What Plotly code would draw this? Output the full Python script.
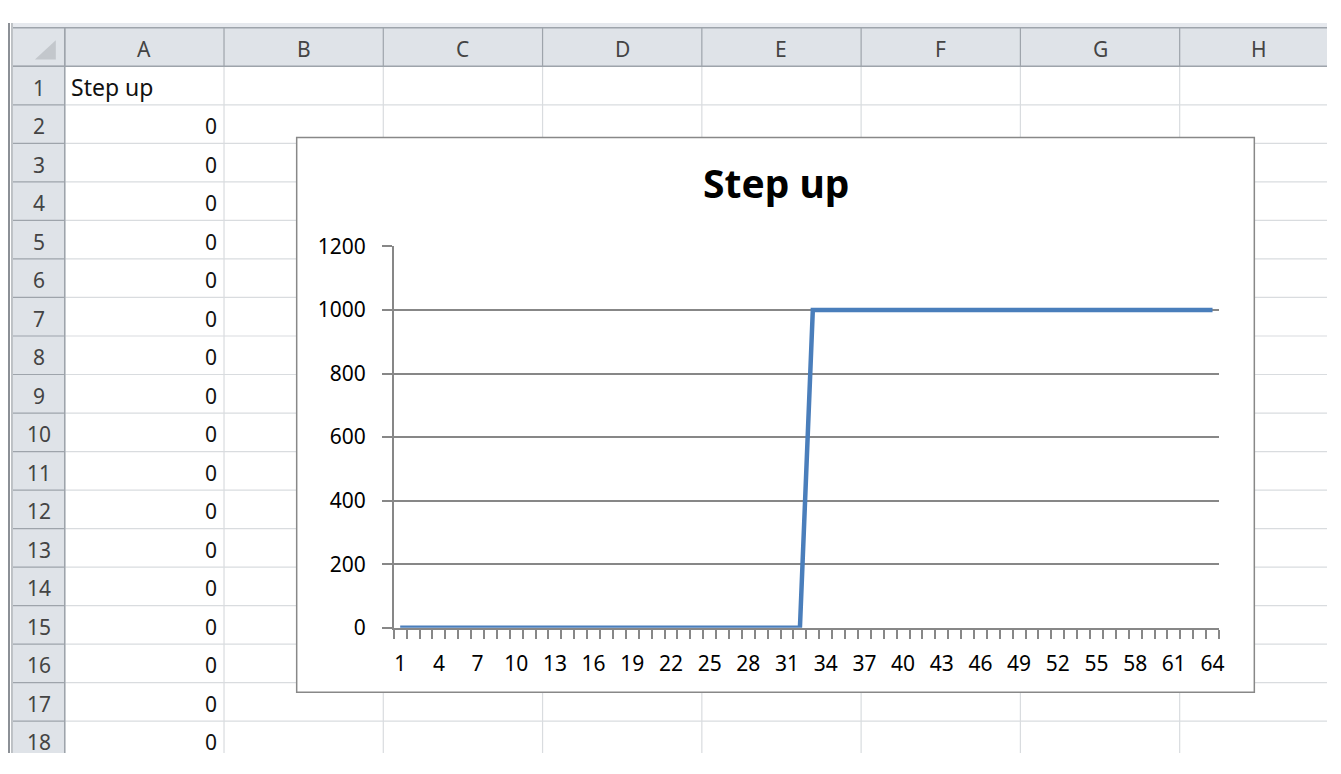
import plotly.graph_objects as go

# ---- data ----
title = "Step up"
categories = list(range(1, 65))
values = [0, 0, 0, 0, 0, 0, 0, 0, 0, 0, 0, 0, 0, 0, 0, 0,
          0, 0, 0, 0, 0, 0, 0, 0, 0, 0, 0, 0, 0, 0, 0, 0,
          1000, 1000, 1000, 1000, 1000, 1000, 1000, 1000,
          1000, 1000, 1000, 1000, 1000, 1000, 1000, 1000,
          1000, 1000, 1000, 1000, 1000, 1000, 1000, 1000,
          1000, 1000, 1000, 1000, 1000, 1000, 1000, 1000]
x_tick_labels = [str(c) for c in categories[::3]]
y_ticks = [0, 200, 400, 600, 800, 1000, 1200]
col_letters = ["A", "B", "C", "D", "E", "F", "G", "H"]
row_numbers = list(range(1, 19))

# the page body keeps its 8px margin; size the figure so the page fits the window exactly
OFF = 8
W, H = 1341 - 2 * OFF, 774 - 2 * OFF
FONT = "Noto Sans"


def px(x):
    return (x - OFF) / W


def py(y):
    return 1 - (y - OFF) / H


shapes = []
annotations = []


def rect(x0, y0, x1, y1, fill, line_color=None, lw=0):
    shapes.append(dict(type="rect", xref="paper", yref="paper",
                       x0=px(x0), x1=px(x1), y0=py(y1), y1=py(y0),
                       fillcolor=fill,
                       line=dict(color=line_color or fill, width=lw),
                       layer="below"))


def line(x0, y0, x1, y1, color, lw=1):
    shapes.append(dict(type="line", xref="paper", yref="paper",
                       x0=px(x0), x1=px(x1), y0=py(y0), y1=py(y1),
                       line=dict(color=color, width=lw), layer="below"))


def text(x, y, s, size=21, xanchor="center", color="#222"):
    annotations.append(dict(x=px(x), y=py(y), xref="paper", yref="paper",
                            text=s, showarrow=False, xanchor=xanchor, yanchor="middle",
                            font=dict(family=FONT, size=size, color=color)))


# ---- spreadsheet background ----
HEAD_BG = "#dfe3e8"
HEAD_LINE = "#9ea4ab"
GRID = "#d9dcdf"
left, row_head_r = 13, 65
col_w, col0 = 160, 65
head_top, head_bot = 13, 53
row_h = 40
RIGHT, BOTTOM = W + OFF, H + OFF

rect(OFF, OFF, RIGHT, BOTTOM, "white")
rect(left, OFF, RIGHT, head_top, "#e6e9ee")
# cell gridlines
for i in range(len(col_letters) + 1):
    x = col0 + i * col_w
    if x <= RIGHT:
        line(x, head_bot, x, BOTTOM, GRID, 1.2)
for r in range(len(row_numbers) + 1):
    y = head_bot + r * row_h
    if y <= BOTTOM:
        line(row_head_r, y, RIGHT, y, GRID, 1.2)
# column header
rect(left, head_top, RIGHT, head_bot, HEAD_BG)
line(left, head_top, RIGHT, head_top, HEAD_LINE, 1.5)
line(left, head_bot, RIGHT, head_bot, HEAD_LINE, 1.5)
for i in range(len(col_letters) + 1):
    x = col0 + i * col_w
    if x <= RIGHT:
        line(x, head_top, x, head_bot, HEAD_LINE, 1.2)
for i, c in enumerate(col_letters):
    text(col0 + i * col_w + col_w / 2, (head_top + head_bot) / 2 + 2, c, 21, color="#444")
# row header
rect(left, head_bot, row_head_r, BOTTOM, HEAD_BG)
line(row_head_r, head_top, row_head_r, BOTTOM, HEAD_LINE, 1.5)
for r in range(len(row_numbers) + 1):
    y = head_bot + r * row_h
    if y <= BOTTOM:
        line(left, y, row_head_r, y, HEAD_LINE, 1.2)
for r, n in enumerate(row_numbers):
    text((left + row_head_r) / 2, head_bot + r * row_h + row_h / 2 + 2, str(n), 21, color="#444")
# corner triangle
shapes.append(dict(type="path", xref="paper", yref="paper",
                   path="M %f %f L %f %f L %f %f Z" % (px(35), py(46), px(56), py(46), px(56), py(26)),
                   fillcolor="#c3c7cc", line=dict(width=0), layer="below"))
# left window border (double line)
line(OFF + 1, OFF, OFF + 1, BOTTOM, "#8c9096", 2)
line(12, OFF, 12, BOTTOM, "#a8adb3", 1.5)

# column A contents
text(69, head_bot + row_h / 2 + 1, title, 23, xanchor="left", color="#111")
for r in range(1, len(row_numbers)):
    text(220, head_bot + r * row_h + row_h / 2 + 2, str(values[r - 1]), 21, xanchor="right", color="#111")

# ---- chart object ----
rect(298, 127, 1260, 703, "white", "#888888", 1.5)

AX = "#878787"
fig = go.Figure()
fig.add_trace(go.Scatter(x=categories, y=values, mode="lines",
                         line=dict(color="#4a7ebb", width=4.5),
                         hoverinfo="skip", showlegend=False))

fig.update_layout(
    width=W, height=H,
    margin=dict(l=0, r=0, t=0, b=0),
    paper_bgcolor="white", plot_bgcolor="rgba(0,0,0,0)",
    shapes=shapes, annotations=annotations + [
        dict(x=px(779), y=py(174), xref="paper", yref="paper", text="<b>%s</b>" % title,
             showarrow=False, xanchor="center", yanchor="middle",
             font=dict(family=FONT, size=39, color="#000"))],
    xaxis=dict(domain=[px(395.5), px(1224.5)], range=[0.5, 64.5],
               tickmode="array", tickvals=categories[::3], ticktext=x_tick_labels,
               ticks="", showgrid=False, zeroline=False,
               showline=True, linecolor=AX, linewidth=1.5,
               tickfont=dict(family=FONT, size=21, color="#000"),
               ticklabelstandoff=16,
               minor=dict(ticks="outside", tick0=0.5, dtick=1, ticklen=9,
                          tickcolor=AX, tickwidth=1.5, showgrid=False)),
    yaxis=dict(domain=[py(636), py(240)], range=[0, 1200],
               tickmode="array", tickvals=y_ticks,
               ticks="outside", ticklen=10, tickcolor=AX, tickwidth=1.5,
               showgrid=True, gridcolor=AX, gridwidth=1.5, zeroline=False,
               showline=True, linecolor=AX, linewidth=1.5,
               tickfont=dict(family=FONT, size=21, color="#000"),
               ticklabelstandoff=12),
)

fig.write_html("out.html")
